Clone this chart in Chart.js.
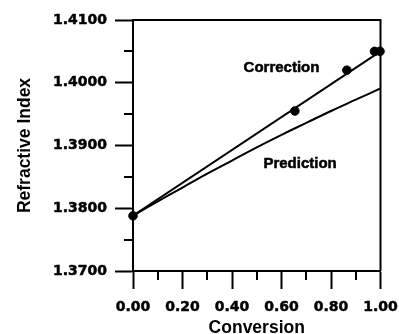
<!DOCTYPE html>
<html>
<head>
<meta charset="utf-8">
<script src="https://cdn.jsdelivr.net/npm/chart.js@4.4.1/dist/chart.umd.min.js"></script>
<style>
    html, body { margin: 0; padding: 0; background: #fff; }
    #wrap { width: 399px; height: 334px; }
</style>
</head>
<body>
<div id="wrap"><canvas id="chart"></canvas></div>
<script>

// measured points
const conversion = [0, 0.654, 0.864, 0.976, 0.998];
const measuredIndex = [1.3788, 1.3955, 1.4020, 1.4050, 1.4050];

// corrected fit (straight)
const correctionX = [0, 1];
const correctionY = [1.3788, 1.4050];

// predicted curve
const predictionX = [0, 0.1, 0.2, 0.3, 0.4, 0.5, 0.6, 0.7, 0.8, 0.9, 1.0];
const predictionY = [1.3788, 1.3811, 1.3833, 1.3855, 1.3876, 1.3897,
                     1.3917, 1.3936, 1.3955, 1.3973, 1.3991];

const xMajor = [0, 0.2, 0.4, 0.6, 0.8, 1.0];
const yMajor = [1.37, 1.38, 1.39, 1.40, 1.41];

const curveLabels = [
    { text: "Correction", x: 0.60, y: 1.4024 },
    { text: "Prediction", x: 0.675, y: 1.3870 }
];

const toPoints = (xs, ys) => xs.map((x, i) => ({ x: x, y: ys[i] }));
const isMajor = (v, list) => list.some(m => Math.abs(m - v) < 1e-6);

const TICK_FONT = { family: "DejaVu Sans", size: 14, weight: "bold" };
const TITLE_FONT = { family: "Liberation Sans", size: 17.5, weight: "bold" };


// ==========================
// FRAME, MINOR TICKS, LABELS
// ==========================

const framePlugin = {
    id: "frame",
    afterDraw(chart) {
        const c = chart.ctx;
        const a = chart.chartArea;
        const xs = chart.scales.x;
        const ys = chart.scales.y;

        c.save();
        c.strokeStyle = "#000";
        c.lineWidth = 2;

        // top and right edges
        c.beginPath();
        c.moveTo(a.left, a.top);
        c.lineTo(a.right, a.top);
        c.lineTo(a.right, a.bottom);
        c.stroke();

        // short minor ticks
        c.beginPath();
        xs.ticks.forEach(t => {
            if (isMajor(t.value, xMajor)) return;
            const px = Math.round(xs.getPixelForValue(t.value));
            c.moveTo(px, a.bottom);
            c.lineTo(px, a.bottom + 9);
        });
        ys.ticks.forEach(t => {
            if (isMajor(t.value, yMajor)) return;
            const py = Math.round(ys.getPixelForValue(t.value));
            c.moveTo(a.left, py);
            c.lineTo(a.left - 9, py);
        });
        c.stroke();

        // curve names
        c.fillStyle = "#000";
        c.lineWidth = 0.5;
        c.font = "bold 15px 'Liberation Sans'";
        c.textAlign = "center";
        c.textBaseline = "middle";
        curveLabels.forEach(l => {
            const px = xs.getPixelForValue(l.x);
            const py = ys.getPixelForValue(l.y);
            c.fillText(l.text, px, py);
            c.strokeText(l.text, px, py);
        });
        c.restore();
    }
};


// ==========================
// CHART
// ==========================

new Chart(document.getElementById("chart"), {
    type: "scatter",
    data: {
        datasets: [
            {
                data: toPoints(correctionX, correctionY),
                showLine: true,
                borderColor: "#000",
                borderWidth: 2,
                pointRadius: 0
            },
            {
                data: toPoints(predictionX, predictionY),
                showLine: true,
                borderColor: "#000",
                borderWidth: 2,
                tension: 0.4,
                pointRadius: 0
            },
            {
                data: toPoints(conversion, measuredIndex),
                backgroundColor: "#000",
                borderColor: "#000",
                pointRadius: 4.3,
                pointHoverRadius: 4.3,
                clip: false
            }
        ]
    },
    options: {
        responsive: true,
        maintainAspectRatio: false,
        animation: false,
        events: [],
        layout: {
            padding: { top: 20, right: 18.5, bottom: 0, left: 0 }
        },
        plugins: {
            legend: { display: false },
            tooltip: { enabled: false }
        },
        scales: {
            x: {
                type: "linear",
                min: 0,
                max: 1,
                afterFit(scale) {
                    scale.height = 63;
                    scale.paddingLeft = 0;
                    scale.paddingRight = 0;
                },
                ticks: {
                    stepSize: 0.1,
                    autoSkip: false,
                    maxRotation: 0,
                    padding: 10,
                    color: "#000",
                    textStrokeColor: "#000",
                    textStrokeWidth: 0.5,
                    font: TICK_FONT,
                    callback: v => isMajor(v, xMajor) ? v.toFixed(2) : ""
                },
                grid: {
                    drawOnChartArea: false,
                    tickLength: 18,
                    tickWidth: 2,
                    tickColor: ctx => isMajor(ctx.tick.value, xMajor) ? "#000" : "rgba(0,0,0,0)"
                },
                border: { display: true, color: "#000", width: 2 },
                title: {
                    display: true,
                    text: "Conversion",
                    color: "#000",
                    font: TITLE_FONT,
                    padding: { top: 0, bottom: -5 }
                }
            },
            y: {
                type: "linear",
                min: 1.37,
                max: 1.41,
                afterFit(scale) {
                    scale.width = 133;
                    scale.paddingTop = 0;
                    scale.paddingBottom = 0;
                },
                ticks: {
                    stepSize: 0.005,
                    autoSkip: false,
                    padding: 8,
                    color: "#000",
                    textStrokeColor: "#000",
                    textStrokeWidth: 0.5,
                    font: TICK_FONT,
                    callback: v => isMajor(v, yMajor) ? v.toFixed(4) : ""
                },
                grid: {
                    drawOnChartArea: false,
                    tickLength: 18,
                    tickWidth: 2,
                    tickColor: ctx => isMajor(ctx.tick.value, yMajor) ? "#000" : "rgba(0,0,0,0)"
                },
                border: { display: true, color: "#000", width: 2 },
                title: {
                    display: true,
                    text: "Refractive Index",
                    color: "#000",
                    font: TITLE_FONT,
                    padding: { top: 14.5, bottom: 0 }
                }
            }
        }
    },
    plugins: [framePlugin]
});
</script>
</body>
</html>
